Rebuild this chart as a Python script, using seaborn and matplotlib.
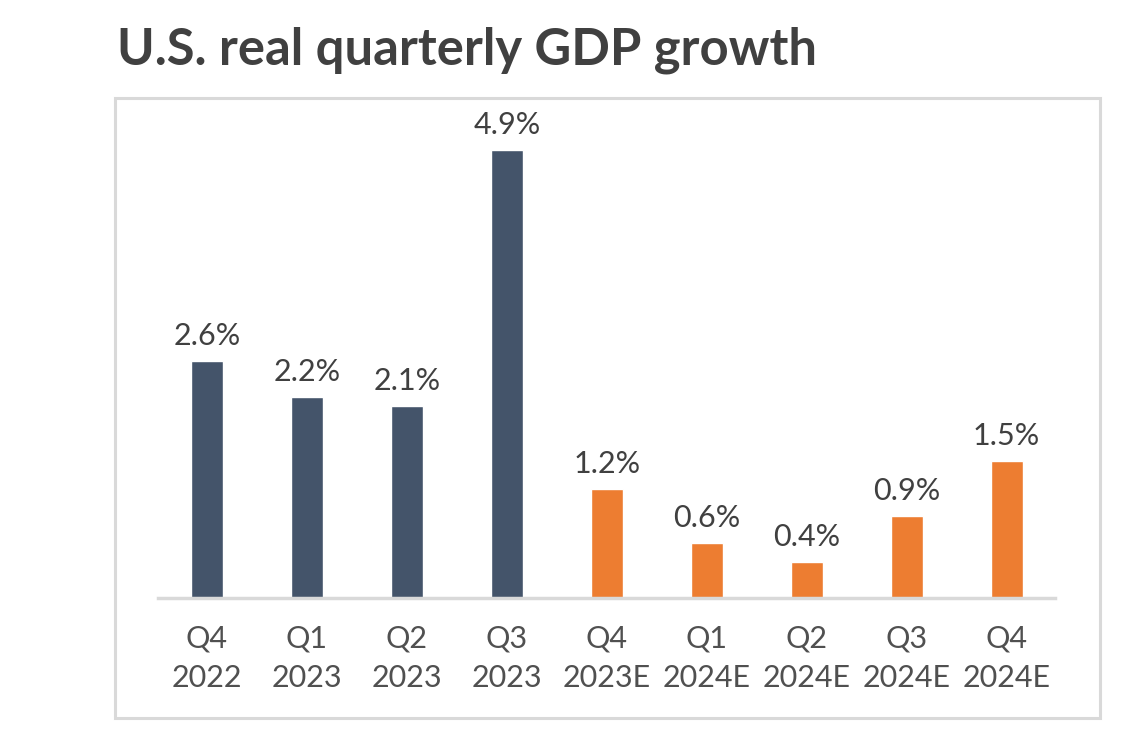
import pandas as pd
import matplotlib.pyplot as plt
import seaborn as sns
from matplotlib.patches import Rectangle

# Dados
quarters = ['Q4\n2022', 'Q1\n2023', 'Q2\n2023', 'Q3\n2023', 'Q4\n2023E',
            'Q1\n2024E', 'Q2\n2024E', 'Q3\n2024E', 'Q4\n2024E']
growth = [2.6, 2.2, 2.1, 4.9, 1.2, 0.6, 0.4, 0.9, 1.5]
kind = ['Actual'] * 4 + ['Estimate'] * 5

df = pd.DataFrame({'quarter': quarters, 'growth': growth, 'kind': kind})

sns.set_style('white')
plt.rcParams['font.family'] = ['Lato', 'DejaVu Sans']

fig = plt.figure(figsize=(11.45, 7.35), dpi=100)
ax = fig.add_axes([0.138, 0.186, 0.783, 0.664])

sns.barplot(data=df, x='quarter', y='growth', hue='kind', dodge=False,
            palette={'Actual': '#44546A', 'Estimate': '#ED7D31'},
            saturation=1, width=0.32, legend=False, ax=ax)

for i, v in enumerate(growth):
    ax.text(i, v + 0.12, f'{v}%', ha='center', va='bottom',
            fontsize=22, color='#404040')

ax.set_xlim(-0.49, 8.48)
ax.set_ylim(0, 5.34)
ax.set_xlabel('')
ax.set_ylabel('')
ax.set_yticks([])
ax.tick_params(axis='x', length=0, pad=19, labelsize=22, labelcolor='#505050')
for lbl in ax.get_xticklabels():
    lbl.set_linespacing(1.5)
for s in ['top', 'right', 'left']:
    ax.spines[s].set_visible(False)
ax.spines['bottom'].set_color('#D9D9D9')
ax.spines['bottom'].set_linewidth(2.5)

# Moldura
fig.patches.append(Rectangle((0.1004, 0.0231), 0.860, 0.8435, transform=fig.transFigure,
                             fill=False, edgecolor='#D9D9D9', linewidth=2.2))

fig.text(0.102, 0.932, 'U.S. real quarterly GDP growth', fontsize=36.5, fontweight='bold',
         color='#404040', va='center', ha='left')

fig.savefig('out.png', dpi=100)
